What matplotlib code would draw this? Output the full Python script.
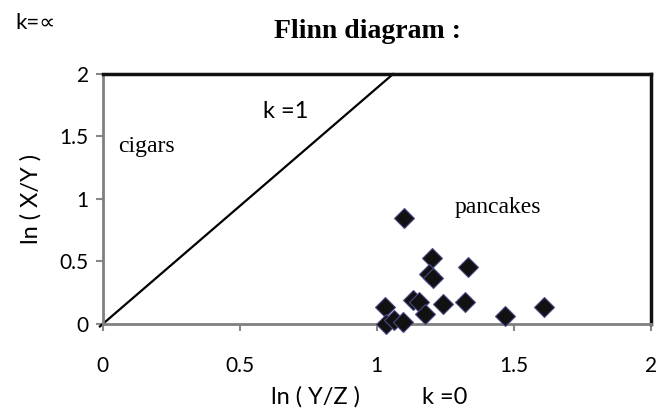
import matplotlib
matplotlib.use('Agg')
import matplotlib.pyplot as plt

# Flinn diagram data: ln(Y/Z) vs ln(X/Y)
ln_yz = [1.10, 1.203, 1.333, 1.19, 1.205, 1.029, 1.132, 1.154, 1.242, 1.322,
         1.612, 1.467, 1.175, 1.035, 1.062, 1.096]
ln_xy = [0.846, 0.525, 0.458, 0.40, 0.366, 0.138, 0.19, 0.174, 0.162, 0.174,
         0.139, 0.067, 0.078, 0.0, 0.03, 0.014]

# k = 1 reference line
k1_x = [-0.01, 1.06]
k1_y = [-0.02, 2.0]

ticks = [0, 0.5, 1, 1.5, 2]
tick_labels = ['0', '0.5', '1', '1.5', '2']

sans = ['Lato', 'DejaVu Sans']
serif = ['Liberation Serif', 'DejaVu Serif']

fig = plt.figure(figsize=(6.58, 4.18), dpi=100)
ax = fig.add_axes([0.156, 0.225, 0.833, 0.598])

ax.plot(k1_x, k1_y, color='black', linewidth=1.6, clip_on=False, zorder=2)
ax.plot(ln_yz, ln_xy, linestyle='none', marker='D', markersize=10.5,
        markerfacecolor='#111111', markeredgecolor='#4a4a8a',
        markeredgewidth=0.8, clip_on=False, zorder=3)

ax.set_xlim(0, 2)
ax.set_ylim(0, 2)
ax.set_xticks(ticks)
ax.set_xticklabels(tick_labels, family=sans, fontsize=15)
ax.set_yticks(ticks)
ax.set_yticklabels(tick_labels, family=sans, fontsize=15)
ax.tick_params(direction='out', length=5, width=1.5, color='#888888')
ax.tick_params(axis='x', pad=18)
ax.tick_params(axis='y', pad=5)

for side in ['left', 'bottom']:
    ax.spines[side].set_color('#808080')
    ax.spines[side].set_linewidth(2)
for side in ['top', 'right']:
    ax.spines[side].set_color('#111111')
    ax.spines[side].set_linewidth(2.5)

ax.text(0.056, 1.416, 'cigars', family=serif, fontsize=17, va='center')
ax.text(0.585, 1.696, 'k =1', family=sans, fontsize=17, va='center')
ax.text(1.284, 0.928, 'pancakes', family=serif, fontsize=17, va='center')

fig.text(0.558, 0.925, 'Flinn diagram :', family=serif, fontsize=20,
         fontweight='bold', ha='center', va='center')
fig.text(0.023, 0.945, 'k=\u221d', family=sans, fontsize=16, va='center')
fig.text(0.479, 0.05, 'ln ( Y/Z )', family=sans, fontsize=17, ha='center', va='center')
fig.text(0.641, 0.05, 'k =0', family=sans, fontsize=17, va='center')
fig.text(0.047, 0.524, 'ln ( X/Y )', family=sans, fontsize=17, rotation=90,
         ha='center', va='center')

fig.savefig('out.png', dpi=100)
